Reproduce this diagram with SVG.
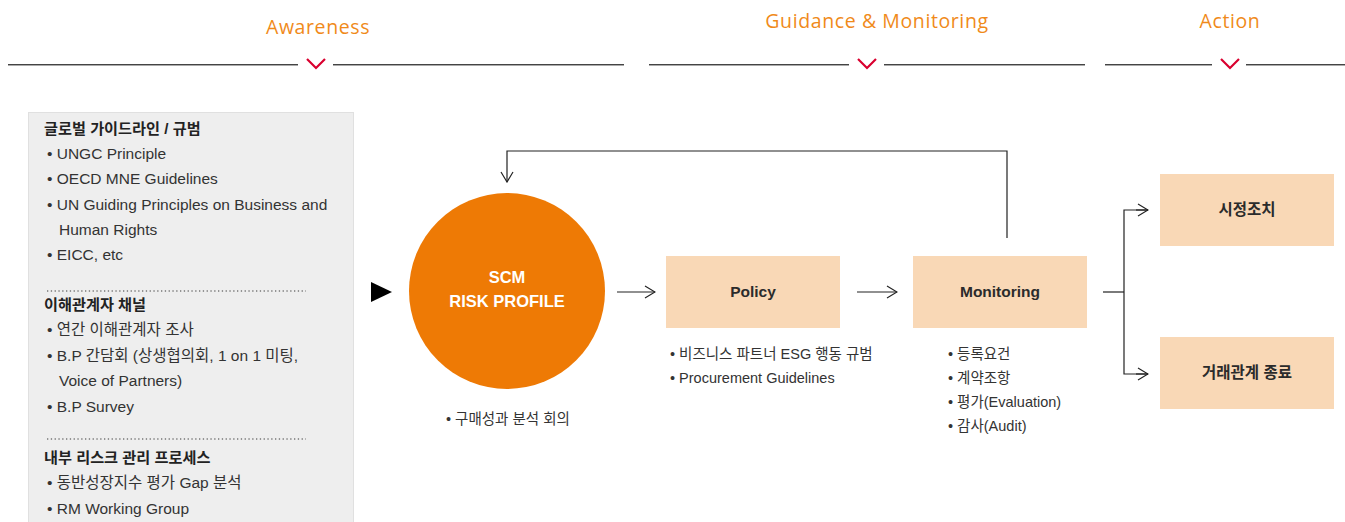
<svg xmlns="http://www.w3.org/2000/svg" width="1345" height="522" viewBox="0 0 1345 522">
<defs>
<marker id="open" viewBox="0 0 12 14" refX="11" refY="7" markerWidth="12" markerHeight="14" markerUnits="userSpaceOnUse" orient="auto">
<path d="M1,1 L11,7 L1,13" fill="none" stroke="#222" stroke-width="1.2"/>
</marker>
</defs>
<style>
.hdr{font-family:"Open Sans","Noto Sans",sans-serif;font-size:19.5px;fill:#f08a1a;text-anchor:middle;letter-spacing:0.6px}
.rule{stroke:#444;stroke-width:1}
.rule2{stroke:#aaa;stroke-width:1}
.chev{fill:none;stroke:#d9002f;stroke-width:2.2}
.h{font-family:"Liberation Sans","Noto Sans CJK KR",sans-serif;font-size:15.2px;font-weight:bold;fill:#222}
.t{font-family:"Liberation Sans","Noto Sans CJK KR",sans-serif;font-size:14.5px;fill:#333}
.tl{font-family:"Liberation Sans","Noto Sans CJK KR",sans-serif;font-size:15.5px;fill:#333}
.dot{stroke:#777;stroke-width:1.3;stroke-dasharray:1.3 2.5}
.box{fill:#f9d8b6}
.bt{font-family:"Liberation Sans","Noto Sans CJK KR",sans-serif;font-size:15.5px;font-weight:bold;fill:#2b2b2b;text-anchor:middle}
.ct{font-family:"Liberation Sans","Noto Sans CJK KR",sans-serif;font-size:16.5px;font-weight:bold;fill:#fff;text-anchor:middle}
.ln{fill:none;stroke:#222;stroke-width:1.2}
</style>
<g id="headers">
<text class="hdr" x="318" y="34">Awareness</text>
<text class="hdr" x="877" y="28">Guidance &amp; Monitoring</text>
<text class="hdr" x="1230" y="28">Action</text>
<line class="rule" x1="8" y1="64.5" x2="298" y2="64.5"/><line class="rule2" x1="8" y1="65.5" x2="298" y2="65.5"/>
<line class="rule" x1="333" y1="64.5" x2="624" y2="64.5"/><line class="rule2" x1="333" y1="65.5" x2="624" y2="65.5"/>
<polyline class="chev" points="307,59 316,68 325,59"/>
<line class="rule" x1="649" y1="64.5" x2="849" y2="64.5"/><line class="rule2" x1="649" y1="65.5" x2="849" y2="65.5"/>
<line class="rule" x1="884" y1="64.5" x2="1085" y2="64.5"/><line class="rule2" x1="884" y1="65.5" x2="1085" y2="65.5"/>
<polyline class="chev" points="858,59 867,68 876,59"/>
<line class="rule" x1="1105" y1="64.5" x2="1212" y2="64.5"/><line class="rule2" x1="1105" y1="65.5" x2="1212" y2="65.5"/>
<line class="rule" x1="1246" y1="64.5" x2="1345" y2="64.5"/><line class="rule2" x1="1246" y1="65.5" x2="1345" y2="65.5"/>
<polyline class="chev" points="1221,59 1230,68 1239,59"/>
</g>
<g id="awareness-box">
<rect x="28.5" y="112.5" width="325" height="420" fill="#eeeeee" stroke="#e0e0e0"/>
<text class="h" x="44" y="134">글로벌 가이드라인 / 규범</text>
<text class="tl" x="47" y="159">• UNGC Principle</text>
<text class="tl" x="47" y="184">• OECD MNE Guidelines</text>
<text class="tl" x="47" y="210">• UN Guiding Principles on Business and</text>
<text class="tl" x="59" y="235">Human Rights</text>
<text class="tl" x="47" y="260">• EICC, etc</text>
<line class="dot" x1="47" y1="291" x2="306" y2="291"/>
<text class="h" x="44" y="310">이해관계자 채널</text>
<text class="tl" x="47" y="335">• 연간 이해관계자 조사</text>
<text class="tl" x="47" y="361">• B.P 간담회 (상생협의회, 1 on 1 미팅,</text>
<text class="tl" x="59" y="386">Voice of Partners)</text>
<text class="tl" x="47" y="412">• B.P Survey</text>
<line class="dot" x1="47" y1="439" x2="306" y2="439"/>
<text class="h" x="44" y="463">내부 리스크 관리 프로세스</text>
<text class="tl" x="47" y="488">• 동반성장지수 평가 Gap 분석</text>
<text class="tl" x="47" y="514">• RM Working Group</text>
</g>
<g id="scm-risk-profile">
<circle cx="507" cy="291" r="98" fill="#ee7a05"/>
<text class="ct" x="507" y="283">SCM</text>
<text class="ct" x="507" y="307">RISK PROFILE</text>
<text class="t" x="446" y="424">• 구매성과 분석 회의</text>
</g>
<g id="policy">
<rect class="box" x="666" y="256" width="174" height="72"/>
<text class="bt" x="753" y="297">Policy</text>
<text class="t" x="670" y="359">• 비즈니스 파트너 ESG 행동 규범</text>
<text class="t" x="670" y="383">• Procurement Guidelines</text>
</g>
<g id="monitoring">
<rect class="box" x="913" y="256" width="174" height="72"/>
<text class="bt" x="1000" y="297">Monitoring</text>
<text class="t" x="948" y="359">• 등록요건</text>
<text class="t" x="948" y="383">• 계약조항</text>
<text class="t" x="948" y="407">• 평가(Evaluation)</text>
<text class="t" x="948" y="431">• 감사(Audit)</text>
</g>
<g id="corrective-action">
<rect class="box" x="1160" y="174" width="174" height="72"/>
<text class="bt" x="1247" y="215">시정조치</text>
</g>
<g id="termination">
<rect class="box" x="1160" y="337" width="174" height="72"/>
<text class="bt" x="1247" y="378">거래관계 종료</text>
</g>
<g id="connectors">
<polygon points="371,282 392,292 371,302" fill="#000"/>
<line class="ln" x1="617" y1="292" x2="655" y2="292" marker-end="url(#open)"/>
<line class="ln" x1="857" y1="292" x2="897" y2="292" marker-end="url(#open)"/>
<polyline class="ln" points="1007,238 1007,151 507,151 507,182" marker-end="url(#open)"/>
<line class="ln" x1="1103" y1="292" x2="1124" y2="292"/>
<polyline class="ln" points="1148,210 1124,210 1124,374 1148,374"/>
<line class="ln" x1="1136" y1="210" x2="1148" y2="210" marker-end="url(#open)"/>
<line class="ln" x1="1136" y1="374" x2="1148" y2="374" marker-end="url(#open)"/>
</g>
</svg>
